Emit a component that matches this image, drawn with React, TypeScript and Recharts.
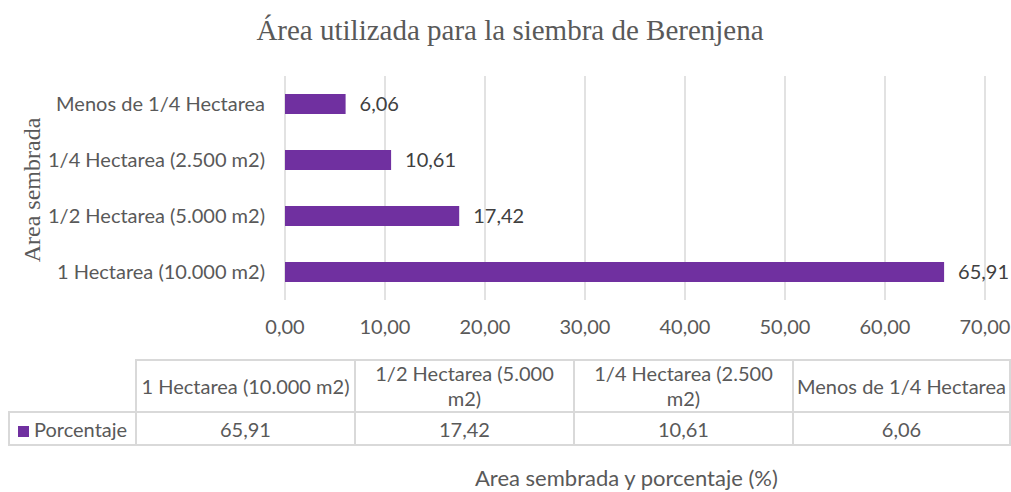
import React from "react";
import {
  BarChart,
  Bar,
  XAxis,
  YAxis,
  CartesianGrid,
  LabelList,
} from "recharts";

// ---------------------------------------------------------------------------
// Data
// ---------------------------------------------------------------------------

const categories = [
  "1 Hectarea (10.000 m2)",
  "1/2 Hectarea (5.000 m2)",
  "1/4 Hectarea (2.500 m2)",
  "Menos de 1/4 Hectarea",
];

const porcentaje = [65.91, 17.42, 10.61, 6.06];

const xTicks = [0, 10, 20, 30, 40, 50, 60, 70];

const SERIES_NAME = "Porcentaje";
const TITLE = "Área utilizada para la siembra de Berenjena";
const Y_TITLE = "Area sembrada";
const X_TITLE = "Area sembrada y porcentaje (%)";

const PURPLE = "#7030A0";
const TEXT = "#595959";
const GRID = "#d9d9d9";
const FONT = "Lato, 'Open Sans', sans-serif";

const fmt = (v: number) => v.toFixed(2).replace(".", ",");

const chartData = categories.map((name, i) => ({ name, value: porcentaje[i] }));

// table column widths, legend column first
const colWidths = [127, 219, 219, 219, 217];

// ---------------------------------------------------------------------------
// Component
// ---------------------------------------------------------------------------

export default function App() {
  return (
    <div style={styles.page}>
      <div style={styles.title}>{TITLE}</div>
      <div style={styles.yTitle}>{Y_TITLE}</div>

      <div style={{ position: "absolute", left: 0, top: 0 }}>
        <BarChart
          width={1011}
          height={345}
          data={chartData}
          layout="vertical"
          margin={{ top: 76, right: 26, left: 0, bottom: 15 }}
        >
          <CartesianGrid horizontal={false} stroke={GRID} strokeWidth={1.5} />
          <XAxis
            type="number"
            domain={[0, 70]}
            ticks={xTicks}
            tickFormatter={fmt}
            axisLine={false}
            tickLine={false}
            tick={{ fontSize: 20, fill: TEXT, fontFamily: FONT }}
            tickMargin={14}
            height={30}
          />
          <YAxis
            type="category"
            dataKey="name"
            reversed
            width={285}
            axisLine={false}
            tickLine={false}
            tickMargin={14}
            tick={{ fontSize: 20, fill: TEXT, fontFamily: FONT }}
          />
          <Bar dataKey="value" fill={PURPLE} barSize={20} isAnimationActive={false}>
            <LabelList
              dataKey="value"
              position="right"
              offset={14}
              formatter={(v: number) => fmt(v)}
              style={{ fontSize: 20, fill: "#404040", fontFamily: FONT }}
            />
          </Bar>
        </BarChart>
      </div>

      <table style={styles.table}>
        <colgroup>
          {colWidths.map((w, i) => (
            <col key={i} style={{ width: w }} />
          ))}
        </colgroup>
        <tbody>
          <tr style={{ height: 52 }}>
            <td style={{ ...styles.cell, border: "none" }} />
            {categories.map((c) => (
              <td key={c} style={{ ...styles.cell, lineHeight: "25px" }}>
                <span style={styles.headText}>{c}</span>
              </td>
            ))}
          </tr>
          <tr style={{ height: 33 }}>
            <td style={{ ...styles.cell, textAlign: "left", paddingLeft: 8 }}>
              <span style={styles.swatch} />
              {SERIES_NAME}
            </td>
            {porcentaje.map((v, i) => (
              <td key={i} style={styles.cell}>
                {fmt(v)}
              </td>
            ))}
          </tr>
        </tbody>
      </table>

      <div style={styles.xTitle}>{X_TITLE}</div>
    </div>
  );
}

// ---------------------------------------------------------------------------
// Inline styles
// ---------------------------------------------------------------------------

const styles = {
  page: {
    position: "absolute",
    left: 0,
    top: 0,
    width: 1011,
    height: 492,
    background: "#ffffff",
    overflow: "hidden",
  } as React.CSSProperties,

  title: {
    position: "absolute",
    top: 14,
    left: 0,
    width: 1020,
    textAlign: "center",
    fontFamily: "'Liberation Serif', 'DejaVu Serif', serif",
    fontSize: 29,
    color: TEXT,
  } as React.CSSProperties,

  yTitle: {
    position: "absolute",
    left: 32,
    top: 190,
    transform: "translate(-50%, -50%) rotate(-90deg)",
    whiteSpace: "nowrap",
    fontFamily: "'Liberation Serif', 'DejaVu Serif', serif",
    fontSize: 24,
    color: TEXT,
  } as React.CSSProperties,

  table: {
    position: "absolute",
    left: 8,
    top: 359,
    borderCollapse: "collapse",
    tableLayout: "fixed",
    width: 1001,
    fontFamily: FONT,
    fontSize: 20,
    color: TEXT,
  } as React.CSSProperties,

  cell: {
    border: `2px solid ${GRID}`,
    textAlign: "center",
    padding: "0 2px",
    lineHeight: "24px",
  } as React.CSSProperties,

  headText: {
    display: "inline-block",
    maxWidth: 212,
  } as React.CSSProperties,

  swatch: {
    display: "inline-block",
    width: 11,
    height: 11,
    background: PURPLE,
    marginRight: 5,
  } as React.CSSProperties,

  xTitle: {
    position: "absolute",
    top: 464,
    left: 475,
    fontFamily: FONT,
    fontSize: 22,
    color: TEXT,
    whiteSpace: "nowrap",
  } as React.CSSProperties,
} satisfies Record<string, React.CSSProperties>;
